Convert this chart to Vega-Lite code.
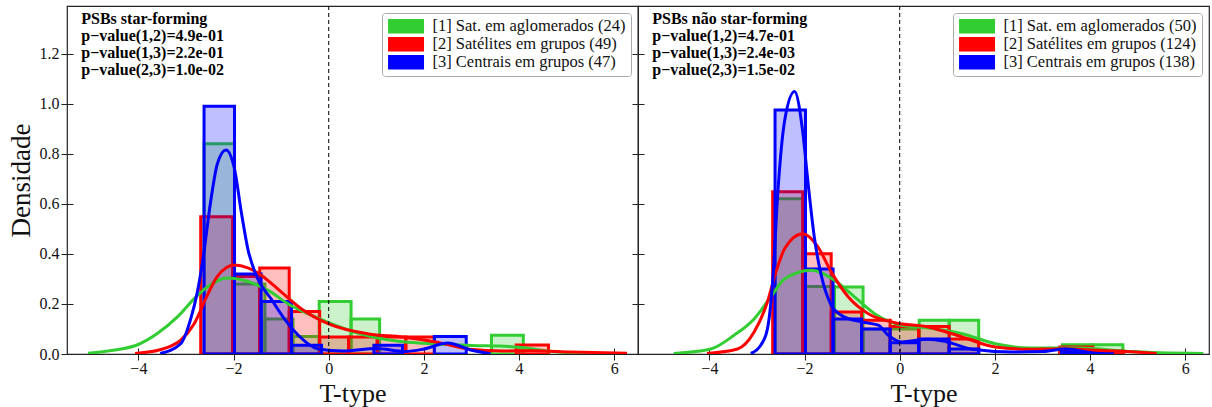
{
  "$schema": "https://vega.github.io/schema/vega-lite/v6.json",
  "padding": {"left": 6, "top": 4, "right": 2, "bottom": 0},
  "spacing": 0,
  "bounds": "flush",
  "config": {
    "font": "Liberation Serif",
    "view": {"stroke": "#222", "strokeWidth": 1.2},
    "axis": {
      "labelFont": "Liberation Serif", "labelFontSize": 16, "labelColor": "#111",
      "titleFont": "Liberation Serif", "titleFontSize": 27, "titleFontWeight": "normal", "titleColor": "#111",
      "domain": false, "tickColor": "#222", "tickSize": 12, "offset": -6, "grid": false, "labelPadding": 2
    },
    "legend": {
      "orient": "top-right", "offset": 7, "padding": 5, "strokeColor": "#aaa", "fillColor": "white", "cornerRadius": 3,
      "labelFont": "Liberation Serif", "labelFontSize": 16.5, "labelColor": "#111", "labelLimit": 400,
      "symbolType": "M-1,-1H4V1H-1Z", "symbolSize": 207, "symbolStrokeWidth": 0, "symbolOpacity": 1,
      "labelOffset": 29, "rowPadding": 1
    }
  },
  "datasets": {
    "hist_sf": [
      {"grupo": "[1] Sat. em aglomerados (24)", "x0": -2.62, "x1": -1.98, "densidade": 0.84},
      {"grupo": "[1] Sat. em aglomerados (24)", "x0": -1.98, "x1": -1.34, "densidade": 0.28},
      {"grupo": "[1] Sat. em aglomerados (24)", "x0": -1.34, "x1": -0.75, "densidade": 0.14},
      {"grupo": "[1] Sat. em aglomerados (24)", "x0": -0.75, "x1": -0.2, "densidade": 0.07},
      {"grupo": "[1] Sat. em aglomerados (24)", "x0": -0.2, "x1": 0.47, "densidade": 0.21},
      {"grupo": "[1] Sat. em aglomerados (24)", "x0": 0.47, "x1": 1.07, "densidade": 0.14},
      {"grupo": "[1] Sat. em aglomerados (24)", "x0": 3.42, "x1": 4.09, "densidade": 0.075},
      {"grupo": "[2] Satélites em grupos (49)", "x0": -2.69, "x1": -2.02, "densidade": 0.548},
      {"grupo": "[2] Satélites em grupos (49)", "x0": -2.02, "x1": -1.45, "densidade": 0.31},
      {"grupo": "[2] Satélites em grupos (49)", "x0": -1.45, "x1": -0.83, "densidade": 0.344},
      {"grupo": "[2] Satélites em grupos (49)", "x0": -0.83, "x1": -0.19, "densidade": 0.17},
      {"grupo": "[2] Satélites em grupos (49)", "x0": -0.19, "x1": 0.42, "densidade": 0.068},
      {"grupo": "[2] Satélites em grupos (49)", "x0": 0.42, "x1": 1.02, "densidade": 0.068},
      {"grupo": "[2] Satélites em grupos (49)", "x0": 1.02, "x1": 1.62, "densidade": 0.068},
      {"grupo": "[2] Satélites em grupos (49)", "x0": 1.62, "x1": 2.22, "densidade": 0.068},
      {"grupo": "[2] Satélites em grupos (49)", "x0": 3.94, "x1": 4.62, "densidade": 0.036},
      {"grupo": "[3] Centrais em grupos (47)", "x0": -2.62, "x1": -1.98, "densidade": 0.99},
      {"grupo": "[3] Centrais em grupos (47)", "x0": -1.98, "x1": -1.42, "densidade": 0.32},
      {"grupo": "[3] Centrais em grupos (47)", "x0": -1.42, "x1": -0.78, "densidade": 0.21},
      {"grupo": "[3] Centrais em grupos (47)", "x0": -0.78, "x1": -0.15, "densidade": 0.035},
      {"grupo": "[3] Centrais em grupos (47)", "x0": 0.95, "x1": 1.55, "densidade": 0.035},
      {"grupo": "[3] Centrais em grupos (47)", "x0": 2.22, "x1": 2.89, "densidade": 0.07}
    ],
    "kde_sf": [
      {"grupo": "[1] Sat. em aglomerados (24)", "t": -5.06, "densidade": 0.003},
      {"grupo": "[1] Sat. em aglomerados (24)", "t": -4.53, "densidade": 0.015},
      {"grupo": "[1] Sat. em aglomerados (24)", "t": -4.03, "densidade": 0.036},
      {"grupo": "[1] Sat. em aglomerados (24)", "t": -3.61, "densidade": 0.081},
      {"grupo": "[1] Sat. em aglomerados (24)", "t": -3.18, "densidade": 0.148},
      {"grupo": "[1] Sat. em aglomerados (24)", "t": -2.83, "densidade": 0.22},
      {"grupo": "[1] Sat. em aglomerados (24)", "t": -2.55, "densidade": 0.268},
      {"grupo": "[1] Sat. em aglomerados (24)", "t": -2.13, "densidade": 0.304},
      {"grupo": "[1] Sat. em aglomerados (24)", "t": -1.7, "densidade": 0.29},
      {"grupo": "[1] Sat. em aglomerados (24)", "t": -1.28, "densidade": 0.255},
      {"grupo": "[1] Sat. em aglomerados (24)", "t": -0.85, "densidade": 0.2},
      {"grupo": "[1] Sat. em aglomerados (24)", "t": -0.43, "densidade": 0.16},
      {"grupo": "[1] Sat. em aglomerados (24)", "t": 0.0, "densidade": 0.125},
      {"grupo": "[1] Sat. em aglomerados (24)", "t": 0.5, "densidade": 0.09},
      {"grupo": "[1] Sat. em aglomerados (24)", "t": 1.0, "densidade": 0.065},
      {"grupo": "[1] Sat. em aglomerados (24)", "t": 1.5, "densidade": 0.05},
      {"grupo": "[1] Sat. em aglomerados (24)", "t": 2.0, "densidade": 0.043},
      {"grupo": "[1] Sat. em aglomerados (24)", "t": 2.5, "densidade": 0.038},
      {"grupo": "[1] Sat. em aglomerados (24)", "t": 3.0, "densidade": 0.034},
      {"grupo": "[1] Sat. em aglomerados (24)", "t": 3.6, "densidade": 0.032},
      {"grupo": "[1] Sat. em aglomerados (24)", "t": 4.1, "densidade": 0.025},
      {"grupo": "[1] Sat. em aglomerados (24)", "t": 4.6, "densidade": 0.012},
      {"grupo": "[1] Sat. em aglomerados (24)", "t": 5.1, "densidade": 0.004},
      {"grupo": "[1] Sat. em aglomerados (24)", "t": 5.5, "densidade": 0.001},
      {"grupo": "[2] Satélites em grupos (49)", "t": -4.07, "densidade": 0.002},
      {"grupo": "[2] Satélites em grupos (49)", "t": -3.47, "densidade": 0.021},
      {"grupo": "[2] Satélites em grupos (49)", "t": -3.11, "densidade": 0.055},
      {"grupo": "[2] Satélites em grupos (49)", "t": -2.83, "densidade": 0.12},
      {"grupo": "[2] Satélites em grupos (49)", "t": -2.55, "densidade": 0.235},
      {"grupo": "[2] Satélites em grupos (49)", "t": -2.34, "densidade": 0.31},
      {"grupo": "[2] Satélites em grupos (49)", "t": -1.98, "densidade": 0.355},
      {"grupo": "[2] Satélites em grupos (49)", "t": -1.7, "densidade": 0.344},
      {"grupo": "[2] Satélites em grupos (49)", "t": -1.42, "densidade": 0.315},
      {"grupo": "[2] Satélites em grupos (49)", "t": -1.0, "densidade": 0.248},
      {"grupo": "[2] Satélites em grupos (49)", "t": -0.57, "densidade": 0.18},
      {"grupo": "[2] Satélites em grupos (49)", "t": 0.0, "densidade": 0.12},
      {"grupo": "[2] Satélites em grupos (49)", "t": 0.84, "densidade": 0.08},
      {"grupo": "[2] Satélites em grupos (49)", "t": 1.55, "densidade": 0.068},
      {"grupo": "[2] Satélites em grupos (49)", "t": 2.25, "densidade": 0.048},
      {"grupo": "[2] Satélites em grupos (49)", "t": 2.96, "densidade": 0.019},
      {"grupo": "[2] Satélites em grupos (49)", "t": 3.66, "densidade": 0.012},
      {"grupo": "[2] Satélites em grupos (49)", "t": 4.3, "densidade": 0.013},
      {"grupo": "[2] Satélites em grupos (49)", "t": 5.08, "densidade": 0.008},
      {"grupo": "[2] Satélites em grupos (49)", "t": 6.27, "densidade": 0.003},
      {"grupo": "[3] Centrais em grupos (47)", "t": -3.54, "densidade": 0.002},
      {"grupo": "[3] Centrais em grupos (47)", "t": -3.11, "densidade": 0.041},
      {"grupo": "[3] Centrais em grupos (47)", "t": -2.9, "densidade": 0.14},
      {"grupo": "[3] Centrais em grupos (47)", "t": -2.76, "densidade": 0.248},
      {"grupo": "[3] Centrais em grupos (47)", "t": -2.65, "densidade": 0.37},
      {"grupo": "[3] Centrais em grupos (47)", "t": -2.48, "densidade": 0.61},
      {"grupo": "[3] Centrais em grupos (47)", "t": -2.34, "densidade": 0.76},
      {"grupo": "[3] Centrais em grupos (47)", "t": -2.16, "densidade": 0.815},
      {"grupo": "[3] Centrais em grupos (47)", "t": -1.98, "densidade": 0.74},
      {"grupo": "[3] Centrais em grupos (47)", "t": -1.84, "densidade": 0.57},
      {"grupo": "[3] Centrais em grupos (47)", "t": -1.7, "densidade": 0.42},
      {"grupo": "[3] Centrais em grupos (47)", "t": -1.49, "densidade": 0.3},
      {"grupo": "[3] Centrais em grupos (47)", "t": -1.21, "densidade": 0.22},
      {"grupo": "[3] Centrais em grupos (47)", "t": -0.93, "densidade": 0.14},
      {"grupo": "[3] Centrais em grupos (47)", "t": -0.64, "densidade": 0.075},
      {"grupo": "[3] Centrais em grupos (47)", "t": -0.22, "densidade": 0.02},
      {"grupo": "[3] Centrais em grupos (47)", "t": 0.3, "densidade": 0.012},
      {"grupo": "[3] Centrais em grupos (47)", "t": 1.0, "densidade": 0.022},
      {"grupo": "[3] Centrais em grupos (47)", "t": 1.6, "densidade": 0.01},
      {"grupo": "[3] Centrais em grupos (47)", "t": 2.0, "densidade": 0.02},
      {"grupo": "[3] Centrais em grupos (47)", "t": 2.5, "densidade": 0.044},
      {"grupo": "[3] Centrais em grupos (47)", "t": 3.0, "densidade": 0.015},
      {"grupo": "[3] Centrais em grupos (47)", "t": 3.4, "densidade": 0.001}
    ],
    "hist_nsf": [
      {"grupo": "[1] Sat. em aglomerados (50)", "x0": -2.62, "x1": -1.98, "densidade": 0.62},
      {"grupo": "[1] Sat. em aglomerados (50)", "x0": -1.98, "x1": -1.37, "densidade": 0.27},
      {"grupo": "[1] Sat. em aglomerados (50)", "x0": -1.37, "x1": -0.77, "densidade": 0.268},
      {"grupo": "[1] Sat. em aglomerados (50)", "x0": -0.77, "x1": -0.2, "densidade": 0.1},
      {"grupo": "[1] Sat. em aglomerados (50)", "x0": -0.2, "x1": 0.41, "densidade": 0.1},
      {"grupo": "[1] Sat. em aglomerados (50)", "x0": 0.41, "x1": 1.04, "densidade": 0.135},
      {"grupo": "[1] Sat. em aglomerados (50)", "x0": 1.04, "x1": 1.66, "densidade": 0.135},
      {"grupo": "[1] Sat. em aglomerados (50)", "x0": 3.42, "x1": 4.05, "densidade": 0.037},
      {"grupo": "[1] Sat. em aglomerados (50)", "x0": 4.05, "x1": 4.69, "densidade": 0.037},
      {"grupo": "[2] Satélites em grupos (124)", "x0": -2.67, "x1": -2.04, "densidade": 0.648},
      {"grupo": "[2] Satélites em grupos (124)", "x0": -2.04, "x1": -1.44, "densidade": 0.4},
      {"grupo": "[2] Satélites em grupos (124)", "x0": -1.44, "x1": -0.8, "densidade": 0.168},
      {"grupo": "[2] Satélites em grupos (124)", "x0": -0.8, "x1": -0.2, "densidade": 0.135},
      {"grupo": "[2] Satélites em grupos (124)", "x0": -0.2, "x1": 0.4, "densidade": 0.11},
      {"grupo": "[2] Satélites em grupos (124)", "x0": 0.4, "x1": 1.04, "densidade": 0.11},
      {"grupo": "[2] Satélites em grupos (124)", "x0": 1.04, "x1": 1.66, "densidade": 0.06},
      {"grupo": "[2] Satélites em grupos (124)", "x0": 3.36, "x1": 4.06, "densidade": 0.028},
      {"grupo": "[2] Satélites em grupos (124)", "x0": 4.06, "x1": 4.7, "densidade": 0.012},
      {"grupo": "[3] Centrais em grupos (138)", "x0": -2.62, "x1": -1.98, "densidade": 0.975},
      {"grupo": "[3] Centrais em grupos (138)", "x0": -1.98, "x1": -1.4, "densidade": 0.34},
      {"grupo": "[3] Centrais em grupos (138)", "x0": -1.4, "x1": -0.8, "densidade": 0.14},
      {"grupo": "[3] Centrais em grupos (138)", "x0": -0.8, "x1": -0.2, "densidade": 0.1},
      {"grupo": "[3] Centrais em grupos (138)", "x0": -0.2, "x1": 0.4, "densidade": 0.045},
      {"grupo": "[3] Centrais em grupos (138)", "x0": 0.4, "x1": 1.04, "densidade": 0.06},
      {"grupo": "[3] Centrais em grupos (138)", "x0": 1.04, "x1": 1.66, "densidade": 0.02},
      {"grupo": "[3] Centrais em grupos (138)", "x0": 3.4, "x1": 4.0, "densidade": 0.012}
    ],
    "kde_nsf": [
      {"grupo": "[1] Sat. em aglomerados (50)", "t": -4.75, "densidade": 0.002},
      {"grupo": "[1] Sat. em aglomerados (50)", "t": -3.97, "densidade": 0.02},
      {"grupo": "[1] Sat. em aglomerados (50)", "t": -3.48, "densidade": 0.075},
      {"grupo": "[1] Sat. em aglomerados (50)", "t": -3.06, "densidade": 0.14},
      {"grupo": "[1] Sat. em aglomerados (50)", "t": -2.71, "densidade": 0.228},
      {"grupo": "[1] Sat. em aglomerados (50)", "t": -2.42, "densidade": 0.3},
      {"grupo": "[1] Sat. em aglomerados (50)", "t": -1.86, "densidade": 0.335},
      {"grupo": "[1] Sat. em aglomerados (50)", "t": -1.37, "densidade": 0.295},
      {"grupo": "[1] Sat. em aglomerados (50)", "t": -0.95, "densidade": 0.228},
      {"grupo": "[1] Sat. em aglomerados (50)", "t": -0.52, "densidade": 0.16},
      {"grupo": "[1] Sat. em aglomerados (50)", "t": 0.04, "densidade": 0.115},
      {"grupo": "[1] Sat. em aglomerados (50)", "t": 0.6, "densidade": 0.104},
      {"grupo": "[1] Sat. em aglomerados (50)", "t": 1.31, "densidade": 0.081},
      {"grupo": "[1] Sat. em aglomerados (50)", "t": 2.01, "densidade": 0.041},
      {"grupo": "[1] Sat. em aglomerados (50)", "t": 2.72, "densidade": 0.024},
      {"grupo": "[1] Sat. em aglomerados (50)", "t": 3.78, "densidade": 0.024},
      {"grupo": "[1] Sat. em aglomerados (50)", "t": 4.84, "densidade": 0.01},
      {"grupo": "[1] Sat. em aglomerados (50)", "t": 6.38, "densidade": 0.002},
      {"grupo": "[2] Satélites em grupos (124)", "t": -4.05, "densidade": 0.002},
      {"grupo": "[2] Satélites em grupos (124)", "t": -3.41, "densidade": 0.02},
      {"grupo": "[2] Satélites em grupos (124)", "t": -3.06, "densidade": 0.088},
      {"grupo": "[2] Satélites em grupos (124)", "t": -2.78, "densidade": 0.208},
      {"grupo": "[2] Satélites em grupos (124)", "t": -2.6, "densidade": 0.328},
      {"grupo": "[2] Satélites em grupos (124)", "t": -2.42, "densidade": 0.42},
      {"grupo": "[2] Satélites em grupos (124)", "t": -2.04, "densidade": 0.48},
      {"grupo": "[2] Satélites em grupos (124)", "t": -1.72, "densidade": 0.428},
      {"grupo": "[2] Satélites em grupos (124)", "t": -1.44, "densidade": 0.328},
      {"grupo": "[2] Satélites em grupos (124)", "t": -1.08, "densidade": 0.228},
      {"grupo": "[2] Satélites em grupos (124)", "t": -0.66, "densidade": 0.161},
      {"grupo": "[2] Satélites em grupos (124)", "t": -0.1, "densidade": 0.125},
      {"grupo": "[2] Satélites em grupos (124)", "t": 0.6, "densidade": 0.108},
      {"grupo": "[2] Satélites em grupos (124)", "t": 1.31, "densidade": 0.068},
      {"grupo": "[2] Satélites em grupos (124)", "t": 2.01, "densidade": 0.028},
      {"grupo": "[2] Satélites em grupos (124)", "t": 2.72, "densidade": 0.019},
      {"grupo": "[2] Satélites em grupos (124)", "t": 3.42, "densidade": 0.021},
      {"grupo": "[2] Satélites em grupos (124)", "t": 4.12, "densidade": 0.015},
      {"grupo": "[2] Satélites em grupos (124)", "t": 5.18, "densidade": 0.005},
      {"grupo": "[2] Satélites em grupos (124)", "t": 5.4, "densidade": 0.002},
      {"grupo": "[3] Centrais em grupos (138)", "t": -3.13, "densidade": 0.002},
      {"grupo": "[3] Centrais em grupos (138)", "t": -2.92, "densidade": 0.035},
      {"grupo": "[3] Centrais em grupos (138)", "t": -2.78, "densidade": 0.1},
      {"grupo": "[3] Centrais em grupos (138)", "t": -2.67, "densidade": 0.29},
      {"grupo": "[3] Centrais em grupos (138)", "t": -2.56, "densidade": 0.65},
      {"grupo": "[3] Centrais em grupos (138)", "t": -2.42, "densidade": 0.93},
      {"grupo": "[3] Centrais em grupos (138)", "t": -2.21, "densidade": 1.048},
      {"grupo": "[3] Centrais em grupos (138)", "t": -2.04, "densidade": 0.89},
      {"grupo": "[3] Centrais em grupos (138)", "t": -1.93, "densidade": 0.69},
      {"grupo": "[3] Centrais em grupos (138)", "t": -1.79, "densidade": 0.46},
      {"grupo": "[3] Centrais em grupos (138)", "t": -1.65, "densidade": 0.315},
      {"grupo": "[3] Centrais em grupos (138)", "t": -1.44, "densidade": 0.195},
      {"grupo": "[3] Centrais em grupos (138)", "t": -1.23, "densidade": 0.155},
      {"grupo": "[3] Centrais em grupos (138)", "t": -0.8, "densidade": 0.128},
      {"grupo": "[3] Centrais em grupos (138)", "t": -0.45, "densidade": 0.115},
      {"grupo": "[3] Centrais em grupos (138)", "t": -0.24, "densidade": 0.075},
      {"grupo": "[3] Centrais em grupos (138)", "t": 0.04, "densidade": 0.048},
      {"grupo": "[3] Centrais em grupos (138)", "t": 0.6, "densidade": 0.059},
      {"grupo": "[3] Centrais em grupos (138)", "t": 0.96, "densidade": 0.05},
      {"grupo": "[3] Centrais em grupos (138)", "t": 1.52, "densidade": 0.019},
      {"grupo": "[3] Centrais em grupos (138)", "t": 2.37, "densidade": 0.008},
      {"grupo": "[3] Centrais em grupos (138)", "t": 3.0, "densidade": 0.01},
      {"grupo": "[3] Centrais em grupos (138)", "t": 3.49, "densidade": 0.02},
      {"grupo": "[3] Centrais em grupos (138)", "t": 4.12, "densidade": 0.003},
      {"grupo": "[3] Centrais em grupos (138)", "t": 4.5, "densidade": 0.001}
    ]
  },
  "hconcat": [
    {
      "width": 571, "height": 348,
      "layer": [
        {
          "data": {"name": "hist_sf"},
          "mark": {"type": "rect", "fillOpacity": 0.25, "strokeWidth": 3, "clip": true},
          "encoding": {
            "x": {"field": "x0", "type": "quantitative", "scale": {"domain": [-5.5, 6.5], "nice": false, "zero": false},
                  "axis": {"values": [-4, -2, 0, 2, 4, 6], "title": "T-type", "titlePadding": 4, "titleFontSize": 26, "labelPadding": 0}},
            "x2": {"field": "x1"},
            "y": {"field": "densidade", "type": "quantitative", "scale": {"domain": [0, 1.39], "nice": false},
                  "axis": {"values": [0, 0.2, 0.4, 0.6, 0.8, 1.0, 1.2], "format": ".1f", "title": "Densidade", "titlePadding": 4}},
            "y2": {"datum": 0},
            "color": {"field": "grupo", "type": "nominal",
                      "scale": {"domain": ["[1] Sat. em aglomerados (24)", "[2] Satélites em grupos (49)", "[3] Centrais em grupos (47)"], "range": ["#32cd32", "#ff0000", "#0000ff"]},
                      "legend": {"title": null}},
            "stroke": {"field": "grupo", "type": "nominal",
                       "scale": {"domain": ["[1] Sat. em aglomerados (24)", "[2] Satélites em grupos (49)", "[3] Centrais em grupos (47)"], "range": ["#32cd32", "#ff0000", "#0000ff"]},
                       "legend": null}
          }
        },
        {
          "data": {"name": "kde_sf"},
          "mark": {"type": "line", "strokeWidth": 3, "interpolate": "monotone", "clip": true},
          "encoding": {
            "x": {"field": "t", "type": "quantitative"},
            "y": {"field": "densidade", "type": "quantitative"},
            "color": {"field": "grupo", "type": "nominal"}
          }
        },
        {
          "data": {"values": [{}]},
          "mark": {"type": "rule", "strokeDash": [4, 3], "color": "black", "strokeWidth": 1},
          "encoding": {"x": {"datum": 0}}
        },
        {
          "data": {"values": [{}]},
          "mark": {"type": "text", "align": "left", "baseline": "top", "fontWeight": "bold", "fontSize": 16, "lineHeight": 17, "font": "Liberation Serif", "color": "black"},
          "encoding": {
            "x": {"datum": -5.2}, "y": {"datum": 1.37},
            "text": {"value": ["PSBs star-forming", "p−value(1,2)=4.9e-01", "p−value(1,3)=2.2e-01", "p−value(2,3)=1.0e-02"]}
          }
        }
      ]
    },
    {
      "width": 571, "height": 348,
      "layer": [
        {
          "data": {"name": "hist_nsf"},
          "mark": {"type": "rect", "fillOpacity": 0.25, "strokeWidth": 3, "clip": true},
          "encoding": {
            "x": {"field": "x0", "type": "quantitative", "scale": {"domain": [-5.5, 6.5], "nice": false, "zero": false},
                  "axis": {"values": [-4, -2, 0, 2, 4, 6], "title": "T-type", "titlePadding": 4, "titleFontSize": 26, "labelPadding": 0}},
            "x2": {"field": "x1"},
            "y": {"field": "densidade", "type": "quantitative", "scale": {"domain": [0, 1.39], "nice": false},
                  "axis": {"values": [0, 0.2, 0.4, 0.6, 0.8, 1.0, 1.2], "labels": false, "title": null}},
            "y2": {"datum": 0},
            "color": {"field": "grupo", "type": "nominal",
                      "scale": {"domain": ["[1] Sat. em aglomerados (50)", "[2] Satélites em grupos (124)", "[3] Centrais em grupos (138)"], "range": ["#32cd32", "#ff0000", "#0000ff"]},
                      "legend": {"title": null}},
            "stroke": {"field": "grupo", "type": "nominal",
                       "scale": {"domain": ["[1] Sat. em aglomerados (50)", "[2] Satélites em grupos (124)", "[3] Centrais em grupos (138)"], "range": ["#32cd32", "#ff0000", "#0000ff"]},
                       "legend": null}
          }
        },
        {
          "data": {"name": "kde_nsf"},
          "mark": {"type": "line", "strokeWidth": 3, "interpolate": "monotone", "clip": true},
          "encoding": {
            "x": {"field": "t", "type": "quantitative"},
            "y": {"field": "densidade", "type": "quantitative"},
            "color": {"field": "grupo", "type": "nominal"}
          }
        },
        {
          "data": {"values": [{}]},
          "mark": {"type": "rule", "strokeDash": [4, 3], "color": "black", "strokeWidth": 1},
          "encoding": {"x": {"datum": 0}}
        },
        {
          "data": {"values": [{}]},
          "mark": {"type": "text", "align": "left", "baseline": "top", "fontWeight": "bold", "fontSize": 16, "lineHeight": 17, "font": "Liberation Serif", "color": "black"},
          "encoding": {
            "x": {"datum": -5.2}, "y": {"datum": 1.37},
            "text": {"value": ["PSBs não star-forming", "p−value(1,2)=4.7e-01", "p−value(1,3)=2.4e-03", "p−value(2,3)=1.5e-02"]}
          }
        }
      ]
    }
  ],
  "resolve": {"scale": {"color": "independent", "stroke": "independent"}, "legend": {"color": "independent"}}
}
